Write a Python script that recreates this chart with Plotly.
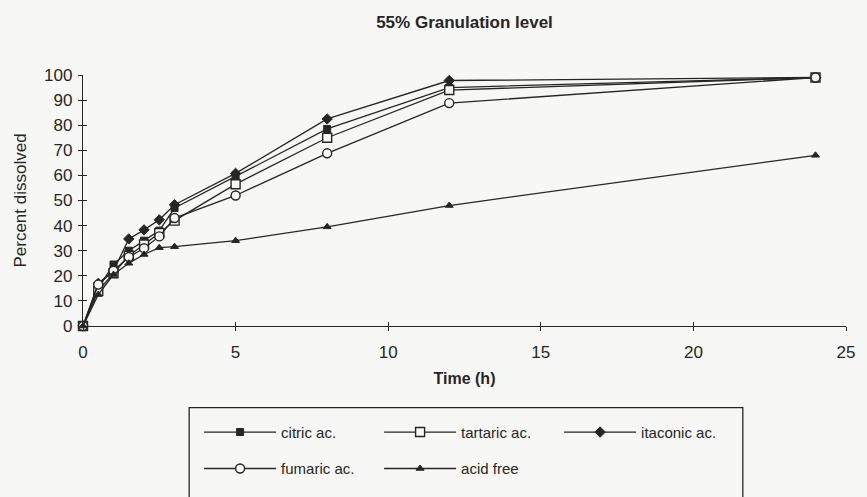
import plotly.graph_objects as go

# ---- data ----
time_h = [0, 0.5, 1, 1.5, 2, 2.5, 3, 5, 8, 12, 24]
citric = [0, 15, 24.5, 30, 34, 38, 47, 59.5, 78.5, 95, 99]
tartaric = [0, 14, 21, 28, 32.5, 37, 42, 56.5, 75, 94, 99]
itaconic = [0, 17, 22, 34.7, 38.3, 42.3, 48.3, 60.8, 82.5, 97.8, 99]
fumaric = [0, 16.5, 22, 27.5, 31, 35.7, 43, 52, 68.8, 88.8, 99]
acid_free = [0, 12.5, 20.5, 25, 28.5, 31.2, 31.6, 34, 39.5, 48, 68]

series_names = ["citric ac.", "tartaric ac.", "itaconic ac.", "fumaric ac.", "acid free"]
x_ticks = [0, 5, 10, 15, 20, 25]
y_ticks = [0, 10, 20, 30, 40, 50, 60, 70, 80, 90, 100]

INK = "#262626"
BG = "#f7f7f5"
FONT = "Liberation Sans, Arial, sans-serif"

styles = [
    dict(symbol="square", size=7, color=INK, line=dict(color=INK, width=1)),
    dict(symbol="square", size=9, color=BG, line=dict(color=INK, width=1.4)),
    dict(symbol="diamond", size=8, color=INK, line=dict(color=INK, width=1)),
    dict(symbol="circle", size=9, color=BG, line=dict(color=INK, width=1.4)),
    dict(symbol="triangle-up", size=7, color=INK, line=dict(color=INK, width=1)),
]
legends = ["legend", "legend", "legend", "legend2", "legend2"]
values = [citric, tartaric, itaconic, fumaric, acid_free]

fig = go.Figure()
for name, vals, mk, lg in zip(series_names, values, styles, legends):
    fig.add_trace(go.Scatter(
        x=time_h, y=vals, name=name, mode="lines+markers",
        line=dict(color=INK, width=1.3), marker=mk,
        cliponaxis=False, legend=lg,
    ))

# invisible trace to carry the overlay axes (inside half of crossing ticks)
fig.add_trace(go.Scatter(x=[None], y=[None], xaxis="x2", yaxis="y2",
                         showlegend=False, hoverinfo="skip"))

W, H = 867, 497
L, R, T, B = 83, 15, 75, 167
pw, ph = W - L - R, H - T - B

def px_x(p):
    return (p - L) / pw

def px_y(p):
    return (H - B - p) / ph

axis_common = dict(showgrid=False, zeroline=False, showline=True,
                   linecolor=INK, linewidth=1.3, ticks="outside", ticklen=4,
                   tickwidth=1.3, tickcolor=INK,
                   tickfont=dict(family=FONT, size=17, color=INK))

fig.update_layout(
    width=W, height=H,
    margin=dict(l=L, r=R, t=T, b=B),
    paper_bgcolor=BG, plot_bgcolor=BG,
    title=dict(text="<b>55% Granulation level</b>", x=0.5, xref="paper",
               xanchor="center", y=(H - 22) / H, yanchor="middle",
               font=dict(family=FONT, size=17, color=INK)),
    xaxis=dict(range=[0, 25], tickvals=x_ticks, ticktext=[str(v) for v in x_ticks],
               ticklabelstandoff=6,
               title=dict(text="<b>Time (h)</b>", standoff=12,
                          font=dict(family=FONT, size=16, color=INK)),
               **axis_common),
    yaxis=dict(range=[0, 100], tickvals=y_ticks, ticktext=[str(v) for v in y_ticks],
               ticklabelstandoff=2,
               title=dict(text="Percent dissolved", standoff=13,
                          font=dict(family=FONT, size=17, color=INK)),
               **axis_common),
    xaxis2=dict(overlaying="x", anchor="y2", range=[0, 25], tickvals=x_ticks,
                showticklabels=False, showgrid=False, zeroline=False, showline=False,
                ticks="inside", ticklen=4, tickwidth=1.3, tickcolor=INK),
    yaxis2=dict(overlaying="y", anchor="x2", range=[0, 100], tickvals=y_ticks,
                showticklabels=False, showgrid=False, zeroline=False, showline=False,
                ticks="inside", ticklen=4, tickwidth=1.3, tickcolor=INK),
    legend=dict(orientation="h", x=px_x(200), y=px_y(438), xanchor="left",
                yanchor="middle", entrywidth=93, entrywidthmode="pixels",
                itemwidth=72, bgcolor="rgba(0,0,0,0)", borderwidth=0,
                font=dict(family=FONT, size=15, color=INK), traceorder="normal"),
    legend2=dict(orientation="h", x=px_x(200), y=px_y(475), xanchor="left",
                 yanchor="middle", entrywidth=93, entrywidthmode="pixels",
                 itemwidth=72, bgcolor="rgba(0,0,0,0)", borderwidth=0,
                 font=dict(family=FONT, size=15, color=INK), traceorder="normal"),
    shapes=[dict(type="rect", xref="paper", yref="paper",
                 x0=px_x(190), x1=px_x(748), y0=px_y(413), y1=px_y(520),
                 line=dict(color=INK, width=1.3), fillcolor="rgba(0,0,0,0)")],
    showlegend=True,
)

fig.write_html("out.html")
